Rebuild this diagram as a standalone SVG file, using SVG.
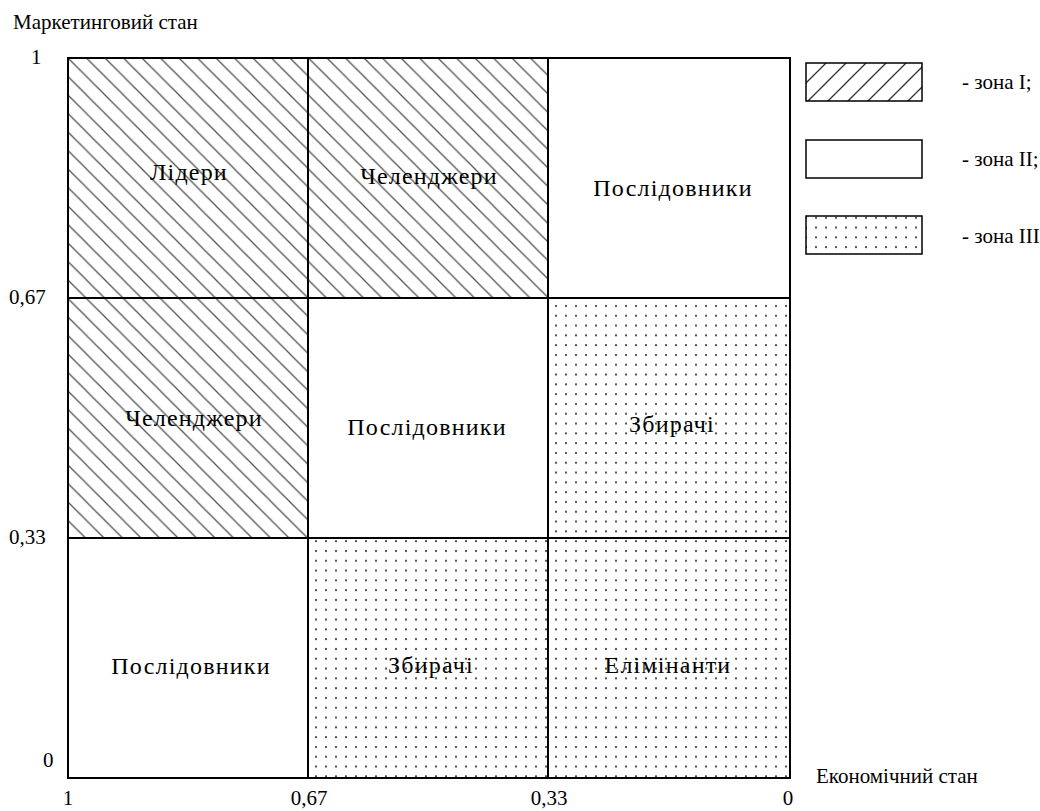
<svg xmlns="http://www.w3.org/2000/svg" width="1040" height="811" viewBox="0 0 1040 811">
  <style>
    text { font-family: 'Liberation Serif', 'Times New Roman', Times, serif; fill: #000; }
    .lbl { font-size: 24px; letter-spacing: 1.2px; text-anchor: middle; }
    .ax { font-size: 21px; }
    .axm { font-size: 21px; text-anchor: middle; }
    .cell { stroke: #000; stroke-width: 2; }
    .leg { stroke: #000; stroke-width: 1.5; }
  </style>
  <defs>
    <pattern id="hatch" patternUnits="userSpaceOnUse" width="18.5" height="18.5" x="68" y="58">
      <line x1="-2" y1="-2" x2="20.5" y2="20.5" stroke="#555" stroke-width="1.3"/>
      <line x1="-20.5" y1="-2" x2="2" y2="20.5" stroke="#555" stroke-width="1.3"/>
      <line x1="16.5" y1="-2" x2="39" y2="20.5" stroke="#555" stroke-width="1.3"/>
    </pattern>
    <pattern id="hatchLeg" patternUnits="userSpaceOnUse" width="20" height="20" x="806" y="63">
      <line x1="-2" y1="22" x2="22" y2="-2" stroke="#333" stroke-width="1.3"/>
      <line x1="-22" y1="22" x2="2" y2="-2" stroke="#333" stroke-width="1.3"/>
      <line x1="18" y1="22" x2="42" y2="-2" stroke="#333" stroke-width="1.3"/>
    </pattern>
    <pattern id="dots" patternUnits="userSpaceOnUse" width="10" height="9.8" x="551" y="301">
      <circle cx="5" cy="5" r="1.1" fill="#333"/>
    </pattern>
  </defs>
  <rect width="1040" height="811" fill="#fff"/>

  <g id="cell-leaders">
    <rect class="cell" x="68" y="58" width="240" height="240" fill="url(#hatch)"/>
    <text class="lbl" x="189" y="180">Лідери</text>
  </g>
  <g id="cell-challengers-top">
    <rect class="cell" x="308" y="58" width="240" height="240" fill="url(#hatch)"/>
    <text class="lbl" x="429" y="184">Челенджери</text>
  </g>
  <g id="cell-followers-top">
    <rect class="cell" x="548" y="58" width="242" height="240" fill="#fff"/>
    <text class="lbl" x="673" y="196">Послідовники</text>
  </g>
  <g id="cell-challengers-mid">
    <rect class="cell" x="68" y="298" width="240" height="240" fill="url(#hatch)"/>
    <text class="lbl" x="194" y="426">Челенджери</text>
  </g>
  <g id="cell-followers-mid">
    <rect class="cell" x="308" y="298" width="240" height="240" fill="#fff"/>
    <text class="lbl" x="427" y="435">Послідовники</text>
  </g>
  <g id="cell-gatherers-mid">
    <rect class="cell" x="548" y="298" width="242" height="240" fill="url(#dots)"/>
    <text class="lbl" x="672" y="432">Збирачі</text>
  </g>
  <g id="cell-followers-bot">
    <rect class="cell" x="68" y="538" width="240" height="240" fill="#fff"/>
    <text class="lbl" x="191" y="674">Послідовники</text>
  </g>
  <g id="cell-gatherers-bot">
    <rect class="cell" x="308" y="538" width="240" height="240" fill="url(#dots)"/>
    <text class="lbl" x="431" y="673">Збирачі</text>
  </g>
  <g id="cell-eliminants">
    <rect class="cell" x="548" y="538" width="242" height="240" fill="url(#dots)"/>
    <text class="lbl" x="668" y="673">Елімінанти</text>
  </g>

  <g id="legend">
    <g id="legend-zone1">
      <rect class="leg" x="806" y="63" width="116" height="38" fill="url(#hatchLeg)"/>
      <text class="ax" x="962" y="89">- зона I;</text>
    </g>
    <g id="legend-zone2">
      <rect class="leg" x="806" y="140" width="116" height="38" fill="#fff"/>
      <text class="ax" x="962" y="166">- зона II;</text>
    </g>
    <g id="legend-zone3">
      <rect class="leg" x="806" y="216" width="116" height="38" fill="url(#dots)"/>
      <text class="ax" x="962" y="243">- зона III</text>
    </g>
  </g>

  <g id="axes">
    <text class="ax" x="13" y="29">Маркетинговий стан</text>
    <text class="ax" x="31" y="64">1</text>
    <text class="ax" x="9" y="304">0,67</text>
    <text class="ax" x="9" y="544">0,33</text>
    <text class="ax" x="43" y="767">0</text>
    <text class="axm" x="68" y="805">1</text>
    <text class="axm" x="309" y="805">0,67</text>
    <text class="axm" x="549" y="805">0,33</text>
    <text class="axm" x="788" y="805">0</text>
    <text class="ax" x="816" y="783">Економічний стан</text>
  </g>
</svg>
